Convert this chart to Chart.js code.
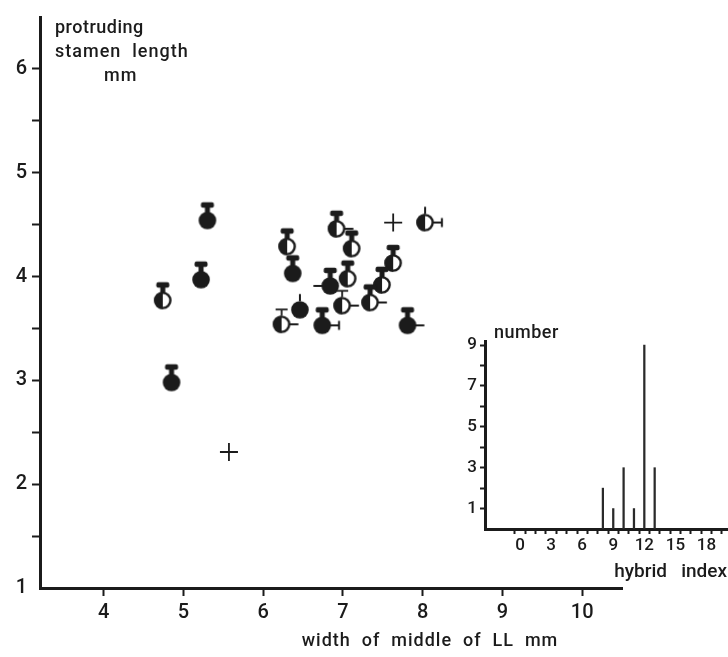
<!DOCTYPE html>
<html>
<head>
<meta charset="utf-8">
<script src="https://cdn.jsdelivr.net/npm/chart.js@4.4.1/dist/chart.umd.min.js"></script>
<style>
  html, body { margin: 0; padding: 0; background: #fff; }
  #wrap { position: relative; width: 728px; height: 657px; }
  #main { position: absolute; left: 0; top: 0; }
  #inset { position: absolute; left: 455px; top: 322px; }
</style>
</head>
<body>
<div id="wrap">
  <canvas id="main" width="728" height="657"></canvas>
  <canvas id="inset" width="273" height="262"></canvas>
</div>
<script>
const INK = '#1b1b1b'
const FONT = 'Roboto'
const WEIGHT = 500

// main scatter: width of middle of LL (mm) vs protruding stamen length (mm)
const lipWidth     = [4.74, 4.85, 5.22, 5.30, 6.92, 6.30, 6.37, 7.11, 8.03, 7.63, 7.06, 6.84, 7.49, 6.99, 7.34, 6.46, 6.23, 6.74, 7.81]
const stamenLength = [3.77, 2.98, 3.97, 4.54, 4.46, 4.29, 4.03, 4.27, 4.52, 4.13, 3.98, 3.91, 3.92, 3.72, 3.75, 3.68, 3.54, 3.53, 3.53]
// glyph traits per plant
const bodyFill = ['half', 'full', 'full', 'full', 'half', 'half', 'full', 'half', 'half', 'half', 'half', 'full', 'half', 'half', 'half', 'full', 'half', 'full', 'full']
const topMark  = ['cap', 'cap', 'cap', 'cap', 'cap', 'cap', 'cap', 'cap', 'stem', 'cap', 'cap', 'cap', 'cap', 'thin', 'cap', 'stem', 'thin', 'cap', 'cap']
const sideMark = ['', '', '', '', 'rdash', '', '', '', 'rwhisker', '', '', 'ldash', '', 'rdash', 'rdash', '', 'rdash', 'rwhisker', 'rdash']

// parent means (crosses)
const parentWidth  = [5.57, 7.63]
const parentLength = [2.31, 4.52]

const xTickValues = [4, 5, 6, 7, 8, 9, 10]
const yTickValues = [1, 1.5, 2, 2.5, 3, 3.5, 4, 4.5, 5, 5.5, 6]

// inset histogram
const hybridIndex = [8, 9, 10, 11, 12, 13]
const plantCount  = [2, 1, 3, 1, 9, 3]
const insetXTicks = [0, 1, 2, 3, 4, 5, 6, 7, 8, 9, 10, 11, 12, 13, 14, 15, 16, 17, 18, 19]
const insetYTicks = [1, 2, 3, 4, 5, 6, 7, 8, 9]


function line(g, x1, y1, x2, y2) {
    g.beginPath()
    g.moveTo(x1, y1)
    g.lineTo(x2, y2)
    g.stroke()
}

function makeGlyph(fill, top, side) {
    const c = document.createElement('canvas')
    c.width = 48
    c.height = 48
    const g = c.getContext('2d')
    const cx = 24, cy = 24, r = 8.8
    g.fillStyle = INK
    g.strokeStyle = INK
    g.lineCap = 'butt'

    if (top === 'cap') {
        g.fillRect(cx - 2.5, cy - r - 5, 5, 6)
        g.beginPath()
        g.roundRect(cx - 6.5, cy - r - 9.5, 13, 5.5, 2)
        g.fill()
    } else if (top === 'thin') {
        g.lineWidth = 1.8
        line(g, cx, cy - r, cx, cy - r - 6)
        line(g, cx - 6, cy - r - 6, cx + 6, cy - r - 6)
    } else if (top === 'stem') {
        g.lineWidth = 2
        line(g, cx, cy - r, cx, cy - r - 7)
    }

    g.lineWidth = 2
    if (side === 'rdash' || side === 'rwhisker') {
        line(g, cx + r - 1, cy, cx + r + 8, cy)
        if (side === 'rwhisker') line(g, cx + r + 8, cy - 4.5, cx + r + 8, cy + 4.5)
    } else if (side === 'ldash') {
        line(g, cx - r - 8, cy, cx - r + 1, cy)
    }

    if (fill === 'full') {
        g.beginPath()
        g.arc(cx, cy, r, 0, Math.PI * 2)
        g.fill()
    } else {
        g.beginPath()
        g.arc(cx, cy, r - 1.2, 0, Math.PI * 2)
        g.fillStyle = '#fff'
        g.fill()
        g.lineWidth = 2.4
        g.stroke()
        g.fillStyle = INK
        g.beginPath()
        g.arc(cx, cy, r, Math.PI / 2, Math.PI * 1.5)
        g.closePath()
        g.fill()
    }
    return c
}

const glyphs = bodyFill.map((f, i) => makeGlyph(f, topMark[i], sideMark[i]))

const textPlugin = {
    id: 'freeText',
    afterDraw(chart, args, opts) {
        const ctx = chart.ctx
        ctx.save()
        ctx.fillStyle = INK
        ctx.textBaseline = 'middle'
        for (const t of opts.items) {
            ctx.font = t.font
            ctx.letterSpacing = t.spacing || '0px'
            ctx.textAlign = t.align || 'left'
            ctx.fillText(t.text, t.x, t.y)
        }
        ctx.restore()
    }
}

function setTicks(values) {
    return scale => { scale.ticks = values.map(v => ({ value: v })) }
}

const labelFont = size => `${WEIGHT} ${size}px "${FONT}"`

new Chart(document.getElementById('main'), {
    type: 'scatter',
    data: {
        datasets: [
            {
                label: 'plants',
                data: lipWidth.map((x, i) => ({ x: x, y: stamenLength[i] })),
                pointStyle: ctx => glyphs[ctx.dataIndex],
                pointRadius: 8
            },
            {
                label: 'parents',
                data: parentWidth.map((x, i) => ({ x: x, y: parentLength[i] })),
                pointStyle: 'cross',
                pointRadius: 9,
                borderColor: INK,
                borderWidth: 1.8
            }
        ]
    },
    options: {
        responsive: false,
        animation: false,
        devicePixelRatio: 1,
        layout: { padding: { top: 10, right: 106, left: 0, bottom: 0 } },
        plugins: {
            legend: { display: false },
            tooltip: { enabled: false },
            freeText: {
                items: [
                    { text: 'protruding', x: 55, y: 28, font: labelFont(18), spacing: '0.5px' },
                    { text: 'stamen  length', x: 55, y: 52, font: labelFont(18), spacing: '1px' },
                    { text: 'mm', x: 104, y: 76, font: labelFont(18), spacing: '1px' },
                    { text: 'width  of  middle  of  LL  mm', x: 430, y: 641, align: 'center', font: labelFont(18), spacing: '1px' }
                ]
            }
        },
        scales: {
            x: {
                type: 'linear',
                min: 3.2,
                max: 10.5,
                afterBuildTicks: setTicks(xTickValues),
                afterFit: s => { s.height = 69 },
                border: { display: true, color: INK, width: 3 },
                grid: { drawOnChartArea: false, drawTicks: true, tickLength: 8, tickWidth: 2, tickColor: INK },
                ticks: { color: INK, padding: 5, font: { family: FONT, size: 20, weight: WEIGHT }, maxRotation: 0 }
            },
            y: {
                type: 'linear',
                min: 1,
                max: 6.5,
                afterBuildTicks: setTicks(yTickValues),
                afterFit: s => { s.width = 40 },
                border: { display: true, color: INK, width: 3 },
                grid: {
                    drawOnChartArea: false, drawTicks: true, tickLength: 8, tickWidth: 2,
                    tickColor: ctx => (ctx.tick && ctx.tick.value === 1) ? 'rgba(0,0,0,0)' : INK
                },
                ticks: {
                    color: INK, padding: 5, font: { family: FONT, size: 20, weight: WEIGHT },
                    callback: v => Number.isInteger(v) ? String(v) : ''
                }
            }
        }
    },
    plugins: [textPlugin]
})

new Chart(document.getElementById('inset'), {
    type: 'bar',
    data: {
        datasets: [{
            label: 'number',
            data: hybridIndex.map((x, i) => ({ x: x, y: plantCount[i] })),
            backgroundColor: '#2a2a2a',
            barThickness: 1.6
        }]
    },
    options: {
        responsive: false,
        animation: false,
        devicePixelRatio: 1,
        layout: { padding: { top: 19, right: 1, left: 0, bottom: 0 } },
        plugins: {
            legend: { display: false },
            tooltip: { enabled: false },
            freeText: {
                items: [
                    { text: 'number', x: 39, y: 11, font: labelFont(18), spacing: '0.5px' }
                ]
            }
        },
        scales: {
            x: {
                type: 'linear',
                min: -2.8,
                max: 19.4,
                afterBuildTicks: setTicks(insetXTicks),
                afterFit: s => { s.height = 55 },
                border: { display: true, color: INK, width: 3 },
                grid: { drawOnChartArea: false, drawTicks: true, tickLength: 5, tickWidth: 2, tickColor: INK },
                ticks: {
                    color: INK, padding: 2, font: { family: FONT, size: 17, weight: WEIGHT }, maxRotation: 0, autoSkip: false,
                    callback: v => v % 3 === 0 ? String(v) : ''
                },
                title: { display: true, text: 'hybrid   index', align: 'end', color: INK, padding: 0, font: { family: FONT, size: 19, weight: WEIGHT } }
            },
            y: {
                type: 'linear',
                min: 0,
                max: 9.2,
                afterBuildTicks: setTicks(insetYTicks),
                afterFit: s => { s.width = 30 },
                border: { display: true, color: INK, width: 3 },
                grid: { drawOnChartArea: false, drawTicks: true, tickLength: 5, tickWidth: 2, tickColor: INK },
                ticks: {
                    color: INK, padding: 3, font: { family: FONT, size: 17, weight: WEIGHT }, autoSkip: false,
                    callback: v => v % 2 === 1 ? String(v) : ''
                }
            }
        }
    },
    plugins: [textPlugin]
})
</script>
</body>
</html>
